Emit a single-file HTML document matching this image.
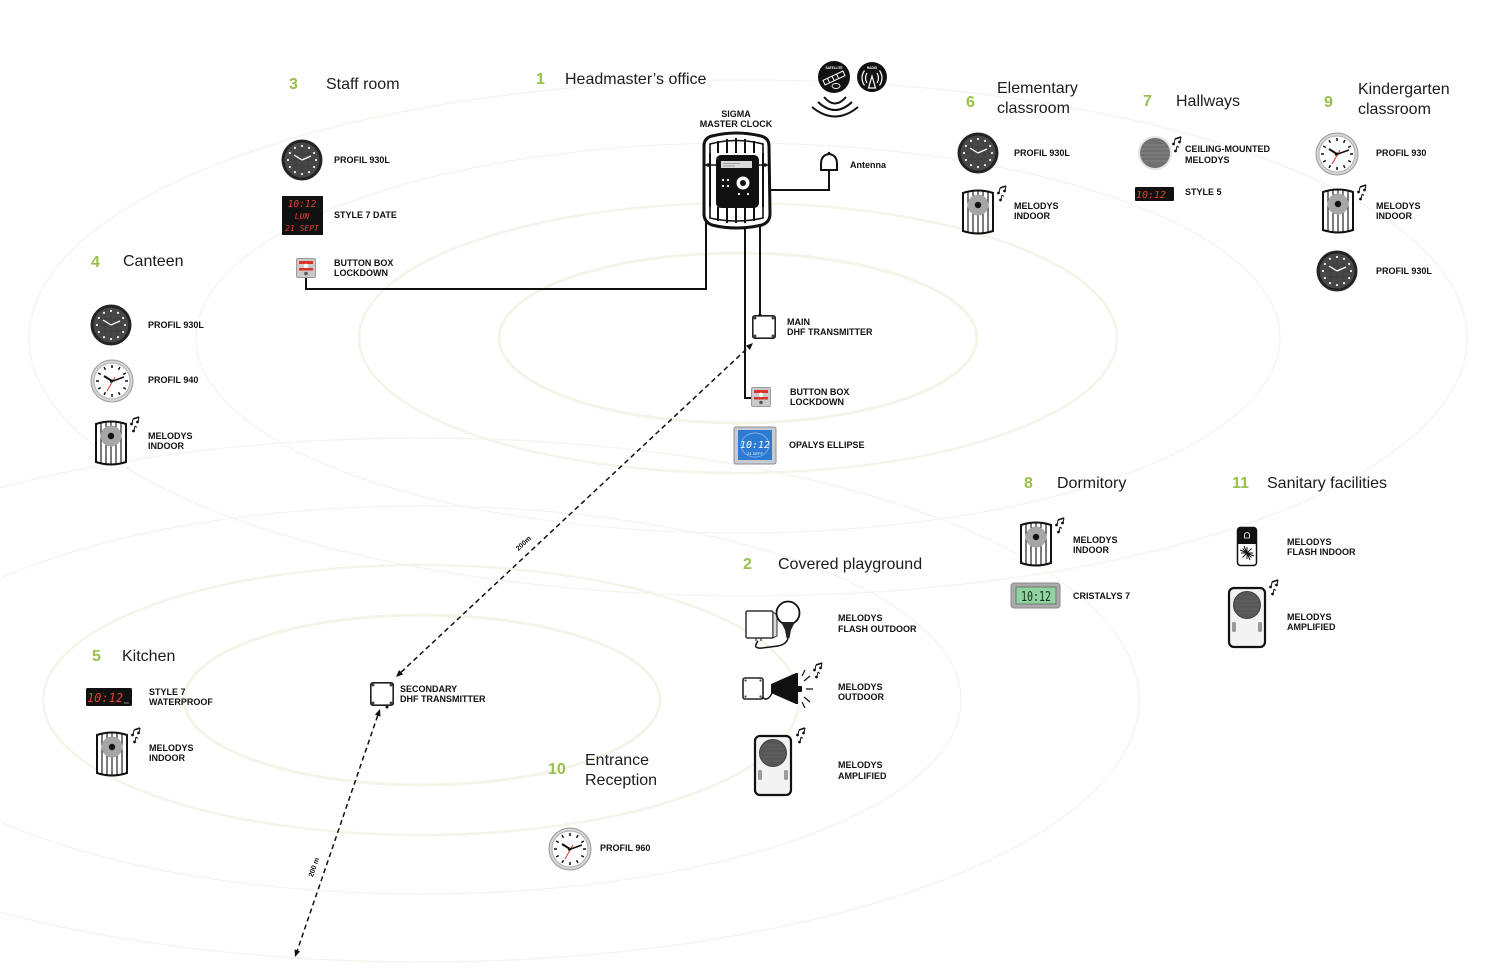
<!DOCTYPE html>
<html>
<head>
<meta charset="utf-8">
<style>
html,body{margin:0;padding:0;background:#fff;}
svg{display:block;}
.h{font-family:"Liberation Sans",Arial,sans-serif;font-size:16px;fill:#1c1c1c;}
.n{font-family:"Liberation Sans",Arial,sans-serif;font-size:16px;font-weight:bold;fill:#97c14c;}
.l{font-family:"Liberation Sans",Arial,sans-serif;font-size:9px;font-weight:bold;fill:#111;}
.s{font-family:"Liberation Sans",Arial,sans-serif;font-size:7px;font-weight:bold;fill:#111;}
.led{font-family:"DejaVu Sans Mono","Liberation Mono",monospace;fill:#e0412c;font-style:italic;}
</style>
</head>
<body>
<svg width="1500" height="970" viewBox="0 0 1500 970" xmlns="http://www.w3.org/2000/svg">
<defs>
  <g id="dk">
    <circle r="20.5" fill="#262626"/>
    <circle r="18" fill="#474747" stroke="#1c1c1c" stroke-width="0.8"/>
    <path d="M-12,-6H12M-14,0H14M-12,6H12M-6,-12V12M0,-14V14M6,-12V12" stroke="#3b3b3b" stroke-width="0.7"/>
    <g fill="#f2f2f2">
      <circle cx="0" cy="-14" r="1.1"/><circle cx="7" cy="-12.12" r="1.1"/><circle cx="12.12" cy="-7" r="1.1"/>
      <circle cx="14" cy="0" r="1.1"/><circle cx="12.12" cy="7" r="1.1"/><circle cx="7" cy="12.12" r="1.1"/>
      <circle cx="0" cy="14" r="1.1"/><circle cx="-7" cy="12.12" r="1.1"/><circle cx="-12.12" cy="7" r="1.1"/>
      <circle cx="-14" cy="0" r="1.1"/><circle cx="-12.12" cy="-7" r="1.1"/><circle cx="-7" cy="-12.12" r="1.1"/>
    </g>
    <path d="M0,0L-8,-5M0,0L9,-4" stroke="#fff" stroke-width="1.3"/>
  </g>
  <g id="wc">
    <circle r="21" fill="#d6d6d6" stroke="#9a9a9a" stroke-width="1"/>
    <circle r="18" fill="#fff" stroke="#b0b0b0" stroke-width="1"/>
    <path d="M0,-13L0,-16M6.5,-11.26L8,-13.86M11.26,-6.5L13.86,-8M13,0L16,0M11.26,6.5L13.86,8M6.5,11.26L8,13.86M0,13L0,16M-6.5,11.26L-8,13.86M-11.26,6.5L-13.86,8M-13,0L-16,0M-11.26,-6.5L-13.86,-8M-6.5,-11.26L-8,-13.86" stroke="#111" stroke-width="1.5"/>
    <path d="M0,0L-8,-5" stroke="#111" stroke-width="2"/>
    <path d="M-2,1L12,-4" stroke="#111" stroke-width="1.6"/>
    <path d="M3,-4L-5,10" stroke="#d6281f" stroke-width="0.9"/>
    <circle r="1.4" fill="#111"/>
  </g>
  <g id="nt" fill="#111" stroke="#111">
    <path d="M3,4L9,2" stroke-width="1.6"/>
    <path d="M3,4L2,9M9,2L8,7" stroke-width="1"/>
    <circle cx="1.5" cy="9" r="1.4" stroke="none"/>
    <circle cx="7.5" cy="7" r="1.4" stroke="none"/>
    <path d="M5,11L4,16M5,11L7,12.5" stroke-width="1" fill="none"/>
    <circle cx="3.5" cy="16" r="1.4" stroke="none"/>
  </g>
  <g id="mi">
    <path d="M2,4Q17,-1 32,4L32,42Q17,47 2,42Z" fill="#fff" stroke="#111" stroke-width="2"/>
    <path d="M7,3V44M12,2V45M17,2V45M22,2V45M27,3V44" stroke="#111" stroke-width="1.1"/>
    <circle cx="17" cy="16" r="10.5" fill="#a6a6a6"/>
    <circle cx="17" cy="16" r="3.2" fill="#111"/>
    <use href="#nt" x="36" y="-5"/>
  </g>
  <g id="tx">
    <rect x="0.8" y="0.8" width="22.4" height="22.4" rx="2" fill="#fff" stroke="#222" stroke-width="1.6"/>
    <circle cx="3" cy="3" r="1.5" fill="#444"/><circle cx="21" cy="3" r="1.5" fill="#444"/>
    <circle cx="3" cy="21" r="1.5" fill="#444"/><circle cx="21" cy="21" r="1.5" fill="#444"/>
  </g>
  <g id="bb">
    <rect x="0.5" y="0.5" width="19" height="19" rx="1.5" fill="#cacaca" stroke="#9a9a9a"/>
    <rect x="3" y="3" width="14" height="3" fill="#d9332b"/>
    <circle cx="10" cy="8" r="2.2" fill="#fff"/>
    <rect x="3" y="10" width="14" height="2.5" fill="#d9332b"/>
    <circle cx="10" cy="15.5" r="1.8" fill="#555"/>
  </g>
  <g id="amp">
    <rect x="1" y="1" width="36" height="59" rx="5" fill="#f3f3f3" stroke="#111" stroke-width="2.2"/>
    <circle cx="19" cy="18" r="13.5" fill="#575757" stroke="#444"/>
    <path d="M8,14H30M7,18H31M8,22H30M10,10H28M10,26H28" stroke="#666" stroke-width="0.8"/>
    <rect x="4" y="35" width="4" height="10" rx="1.5" fill="#9a9a9a"/>
    <rect x="30" y="35" width="4" height="10" rx="1.5" fill="#9a9a9a"/>
  </g>
</defs>

<!-- concentric range ellipses (very faint) -->
<g fill="none">
  <ellipse cx="738" cy="338" rx="239" ry="85" stroke="#f3f5e8" stroke-width="3"/>
  <ellipse cx="738" cy="338" rx="379" ry="135" stroke="#f4f5ea" stroke-width="2.5"/>
  <ellipse cx="738" cy="338" rx="542" ry="195" stroke="#f1f1f1" stroke-width="1"/>
  <ellipse cx="748" cy="338" rx="719" ry="258" stroke="#f3f4ed" stroke-width="1.2"/>
  <ellipse cx="422" cy="700" rx="238" ry="85" stroke="#f3f5e8" stroke-width="3"/>
  <ellipse cx="421" cy="700" rx="378" ry="135" stroke="#f4f5ea" stroke-width="2.5"/>
  <ellipse cx="421" cy="700" rx="540" ry="194" stroke="#f1f1f1" stroke-width="1"/>
  <ellipse cx="421" cy="700" rx="718" ry="262" stroke="#f3f4ed" stroke-width="1.2"/>
</g>

<!-- headers -->
<text class="n" x="289" y="89">3</text><text class="h" x="326" y="89">Staff room</text>
<text class="n" x="536" y="84">1</text><text class="h" x="565" y="84">Headmaster’s office</text>
<text class="n" x="966" y="107">6</text><text class="h" x="997" y="93">Elementary</text><text class="h" x="997" y="113">classroom</text>
<text class="n" x="1143" y="106">7</text><text class="h" x="1176" y="106">Hallways</text>
<text class="n" x="1324" y="107">9</text><text class="h" x="1358" y="94">Kindergarten</text><text class="h" x="1358" y="114">classroom</text>
<text class="n" x="91" y="267">4</text><text class="h" x="123" y="266">Canteen</text>
<text class="n" x="1024" y="488">8</text><text class="h" x="1057" y="488">Dormitory</text>
<text class="n" x="1232" y="488">11</text><text class="h" x="1267" y="488">Sanitary facilities</text>
<text class="n" x="743" y="569">2</text><text class="h" x="778" y="569">Covered playground</text>
<text class="n" x="92" y="661">5</text><text class="h" x="122" y="661">Kitchen</text>
<text class="n" x="548" y="774">10</text><text class="h" x="585" y="765">Entrance</text><text class="h" x="585" y="785">Reception</text>

<!-- wiring -->
<g fill="none" stroke="#111" stroke-width="2">
  <polyline points="306,278 306,289 706,289 706,222"/>
  <polyline points="770,190 829,190 829,170"/>
  <line x1="760" y1="226" x2="760" y2="316"/>
  <polyline points="745,227 745,398 752,398"/>
</g>

<!-- master clock -->
<g>
  <path d="M704,146Q704,138 712,136Q736,130 761,136Q769,138 769,146L770,214Q770,222 762,225Q736,231 712,225Q704,222 704,214Z" fill="#fff" stroke="#111" stroke-width="3"/>
  <path d="M710,153L710,144Q736,137 763,144L763,153" fill="none" stroke="#111" stroke-width="1.6"/>
  <path d="M718,141V153M727,139V153M736,138V153M745,139V153M754,141V153" stroke="#111" stroke-width="2"/>
  <path d="M710,207L710,218Q736,224 763,218L763,207" fill="none" stroke="#111" stroke-width="1.6"/>
  <path d="M718,207V221M727,207V223M736,207V223M745,207V223M754,207V221" stroke="#111" stroke-width="2"/>
  <path d="M710,153V207M763,153V207" stroke="#111" stroke-width="2"/>
  <path d="M704,165H716M758,165H769" stroke="#111" stroke-width="1.5"/>
  <circle cx="708" cy="165" r="1.8" fill="#111"/><circle cx="765" cy="165" r="1.8" fill="#111"/>
  <rect x="716" y="155" width="43" height="53" rx="5" fill="#111"/>
  <rect x="721" y="161" width="31" height="7" fill="#d8d8d8"/>
  <path d="M723,163.5H740M723,166H735" stroke="#888" stroke-width="0.8"/>
  <circle cx="723" cy="180" r="1.1" fill="#fff"/><circle cx="728" cy="180" r="1.1" fill="#fff"/>
  <circle cx="723" cy="186" r="1.1" fill="#fff"/><circle cx="728" cy="186" r="1.1" fill="#fff"/>
  <circle cx="743" cy="183" r="6.5" fill="#fff"/>
  <circle cx="743" cy="183" r="3" fill="#111"/>
  <circle cx="739" cy="194" r="1.1" fill="#fff"/><circle cx="748" cy="194" r="1.1" fill="#fff"/>
</g>
<text class="l" x="736" y="117" text-anchor="middle">SIGMA</text>
<text class="l" x="736" y="127" text-anchor="middle">MASTER CLOCK</text>

<!-- satellite / radio -->
<circle cx="834" cy="77" r="16" fill="#111"/>
<text x="834" y="69" text-anchor="middle" font-family="Liberation Sans,sans-serif" font-size="3.2" font-weight="bold" fill="#fff">SATELLITE</text>
<g transform="rotate(-25 834 78)" fill="none" stroke="#fff" stroke-width="1">
  <rect x="823" y="75.5" width="22" height="5"/>
  <path d="M828,75.5V80.5M833,75.5V80.5M838,75.5V80.5"/>
</g>
<ellipse cx="836" cy="86" rx="4" ry="2.5" fill="none" stroke="#fff" stroke-width="0.9"/>
<circle cx="872" cy="77" r="15" fill="#111"/>
<text x="872" y="69" text-anchor="middle" font-family="Liberation Sans,sans-serif" font-size="3.2" font-weight="bold" fill="#fff">RADIO</text>
<g fill="none" stroke="#fff" stroke-width="1.2">
  <path d="M872,76L868.5,88H875.5Z"/>
  <path d="M867,73Q864,78 867,83M877,73Q880,78 877,83M864.5,70.5Q859.5,78 864.5,85.5M879.5,70.5Q884.5,78 879.5,85.5"/>
</g>
<g fill="none" stroke="#111" stroke-width="2">
  <path d="M824,97Q835,110 846,97"/>
  <path d="M818,102Q835,118 852,102"/>
  <path d="M812,107Q835,126 858,107"/>
</g>

<!-- antenna -->
<path d="M821,170L821,164Q821,155 829,154Q837,155 837,164L837,170Z" fill="#fff" stroke="#111" stroke-width="2"/>
<circle cx="829" cy="153" r="1.2" fill="#111"/>
<text x="850" y="168" font-family="Liberation Sans,sans-serif" font-size="9" font-weight="bold" fill="#111">Antenna</text>

<!-- main transmitter, button box, opalys -->
<use href="#tx" x="752" y="315"/>
<circle cx="760" cy="315" r="1.6" fill="#111"/>
<text class="l" x="787" y="325">MAIN</text><text class="l" x="787" y="335">DHF TRANSMITTER</text>
<use href="#bb" x="751" y="387"/>
<text class="l" x="790" y="395">BUTTON BOX</text><text class="l" x="790" y="405">LOCKDOWN</text>
<rect x="734" y="427" width="42" height="37" rx="2" fill="#c5cbd1" stroke="#8b9096"/>
<rect x="738" y="430" width="34" height="30" fill="#2d7bd0"/>
<ellipse cx="755" cy="445" rx="14" ry="12" fill="none" stroke="#8fc0f0" stroke-width="0.7"/>
<text x="755" y="448" text-anchor="middle" font-family="DejaVu Sans Mono,monospace" font-size="10" fill="#fff" font-style="italic">10:12</text>
<text x="755" y="455" text-anchor="middle" font-family="Liberation Sans,sans-serif" font-size="4" fill="#fff" font-style="italic">21 SEPT</text>
<text class="l" x="789" y="448">OPALYS ELLIPSE</text>

<!-- staff room devices -->
<use href="#dk" x="302" y="160"/>
<text class="l" x="334" y="163">PROFIL 930L</text>
<rect x="282" y="196" width="41" height="39" fill="#111"/>
<text class="led" x="302" y="207" text-anchor="middle" font-size="9.5">10:12</text>
<text class="led" x="302" y="219" text-anchor="middle" font-size="8" font-style="normal">LUN</text>
<text class="led" x="302" y="231" text-anchor="middle" font-size="8">21 SEPT</text>
<text class="l" x="334" y="218">STYLE 7 DATE</text>
<use href="#bb" x="296" y="258"/>
<text class="l" x="334" y="266">BUTTON BOX</text><text class="l" x="334" y="276">LOCKDOWN</text>

<!-- canteen -->
<use href="#dk" x="111" y="325"/>
<text class="l" x="148" y="328">PROFIL 930L</text>
<use href="#wc" x="112" y="381"/>
<text class="l" x="148" y="383">PROFIL 940</text>
<use href="#mi" x="94" y="420"/>
<text class="l" x="148" y="439">MELODYS</text><text class="l" x="148" y="449">INDOOR</text>

<!-- elementary -->
<use href="#dk" x="978" y="153"/>
<text class="l" x="1014" y="156">PROFIL 930L</text>
<use href="#mi" x="961" y="189"/>
<text class="l" x="1014" y="209">MELODYS</text><text class="l" x="1014" y="219">INDOOR</text>

<!-- hallways -->
<circle cx="1155" cy="153" r="17" fill="#e4e4e4"/>
<circle cx="1155" cy="153" r="15" fill="#707070"/>
<path d="M1142,145H1168M1141,149H1169M1140,153H1170M1141,157H1169M1142,161H1168" stroke="#8a8a8a" stroke-width="0.8"/>
<use href="#nt" x="1172" y="135"/>
<text class="l" x="1185" y="152">CEILING-MOUNTED</text><text class="l" x="1185" y="163">MELODYS</text>
<rect x="1135" y="187" width="39" height="14" rx="1" fill="#111"/>
<text class="led" x="1151" y="198" text-anchor="middle" font-size="10">10:12</text>
<text class="l" x="1185" y="195">STYLE 5</text>

<!-- kindergarten -->
<use href="#wc" x="1337" y="154"/>
<text class="l" x="1376" y="156">PROFIL 930</text>
<use href="#mi" x="1321" y="188"/>
<text class="l" x="1376" y="209">MELODYS</text><text class="l" x="1376" y="219">INDOOR</text>
<use href="#dk" x="1337" y="271"/>
<text class="l" x="1376" y="274">PROFIL 930L</text>

<!-- dormitory -->
<use href="#mi" x="1019" y="521"/>
<text class="l" x="1073" y="543">MELODYS</text><text class="l" x="1073" y="553">INDOOR</text>
<rect x="1011" y="583" width="49" height="25" rx="3" fill="#ababab" stroke="#8a8a8a"/>
<rect x="1016" y="587" width="40" height="17" fill="#8fd3a1" stroke="#666" stroke-width="0.8"/>
<text x="1036" y="601" text-anchor="middle" font-family="DejaVu Sans Mono,monospace" font-size="13" fill="#1a2e20" textLength="30" lengthAdjust="spacingAndGlyphs">10:12</text>
<text class="l" x="1073" y="599">CRISTALYS 7</text>

<!-- sanitary -->
<rect x="1237.5" y="527.5" width="19" height="38" rx="3" fill="#fff" stroke="#111" stroke-width="1.5"/>
<path d="M1237.5,544V530.5Q1237.5,527.5 1240.5,527.5H1253.5Q1256.5,527.5 1256.5,530.5V544Z" fill="#111"/>
<path d="M1244.5,538V534Q1247,531 1249.5,534V538Z" fill="none" stroke="#fff" stroke-width="0.8"/>
<path d="M1247,547L1247,559M1241,553L1253,553M1242.5,548.5L1251.5,557.5M1242.5,557.5L1251.5,548.5M1244,546L1250,560M1240,550L1254,556" stroke="#111" stroke-width="1"/>
<text class="l" x="1287" y="545">MELODYS</text><text class="l" x="1287" y="555">FLASH INDOOR</text>
<use href="#amp" x="1228" y="587"/>
<use href="#nt" x="1269" y="578"/>
<text class="l" x="1287" y="620">MELODYS</text><text class="l" x="1287" y="630">AMPLIFIED</text>

<!-- covered playground -->
<rect x="746" y="611" width="27" height="27" rx="1.5" fill="#fff" stroke="#333" stroke-width="1.5"/>
<path d="M773,612L777,615V636L773,638Z" fill="#ddd" stroke="#333" stroke-width="1"/>
<path d="M756,638V641M761,638V641" stroke="#333" stroke-width="1.2"/>
<circle cx="788" cy="613" r="11.5" fill="#fff" stroke="#111" stroke-width="1.8"/>
<path d="M781,622L795,622L791,630L789.5,638L786.5,638L785,630Z" fill="#222"/>
<path d="M758,641Q752,649 762,648L778,646Q787,644 788,638" fill="none" stroke="#111" stroke-width="1.5"/>
<text class="l" x="838" y="621">MELODYS</text><text class="l" x="838" y="632">FLASH OUTDOOR</text>

<rect x="743" y="678" width="20" height="21" rx="2" fill="#fff" stroke="#222" stroke-width="1.6"/>
<circle cx="745.5" cy="680.5" r="1.1" fill="#444"/><circle cx="760.5" cy="680.5" r="1.1" fill="#444"/>
<circle cx="745.5" cy="696.5" r="1.1" fill="#444"/><circle cx="760.5" cy="696.5" r="1.1" fill="#444"/>
<path d="M762,697Q768,703 773,691" fill="none" stroke="#111" stroke-width="1.5"/>
<path d="M771,684L796,673H798V704H796L771,693Z" fill="#111"/>
<rect x="797" y="686" width="5" height="6" rx="1" fill="#111"/>
<path d="M804,681L810,676M806,689H813M804,697L810,702M802,676L805,670M802,702L805,708" stroke="#111" stroke-width="1.2"/>
<use href="#nt" x="813" y="661"/>
<text class="l" x="838" y="690">MELODYS</text><text class="l" x="838" y="700">OUTDOOR</text>

<use href="#amp" x="754" y="735"/>
<use href="#nt" x="796" y="726"/>
<text class="l" x="838" y="768">MELODYS</text><text class="l" x="838" y="779">AMPLIFIED</text>

<!-- kitchen -->
<rect x="86" y="688" width="46" height="18" rx="1.5" fill="#111"/>
<text class="led" x="105" y="702" text-anchor="middle" font-size="12">10:12</text>
<path d="M124,703H129" stroke="#888" stroke-width="1"/>
<text class="l" x="149" y="695">STYLE 7</text><text class="l" x="149" y="705">WATERPROOF</text>
<use href="#mi" x="95" y="731"/>
<text class="l" x="149" y="751">MELODYS</text><text class="l" x="149" y="761">INDOOR</text>

<!-- secondary transmitter -->
<use href="#tx" x="370" y="682"/>
<circle cx="387" cy="707" r="1.5" fill="#111"/>
<text class="l" x="400" y="692">SECONDARY</text><text class="l" x="400" y="702">DHF TRANSMITTER</text>

<!-- entrance -->
<use href="#wc" x="570" y="849"/>
<text class="l" x="600" y="851">PROFIL 960</text>

<!-- dashed range lines -->
<g stroke="#111" stroke-width="1.5" stroke-dasharray="5,3.5" fill="none">
  <line x1="401.1" y1="672.2" x2="747.9" y2="347.8"/>
  <line x1="377.7" y1="715.6" x2="297.3" y2="950.4"/>
</g>
<g fill="#111">
  <polygon points="753,343 749.9,350 745.9,345.6"/>
  <polygon points="396,677 403.2,674.4 399,670"/>
  <polygon points="380,709 380.5,716.6 374.9,714.6"/>
  <polygon points="295,957 300.1,951.4 294.5,949.4"/>
</g>
<text class="s" x="525" y="545" text-anchor="middle" transform="rotate(-43 525 545)">200m</text>
<text class="s" x="316" y="868" text-anchor="middle" transform="rotate(-71 316 868)">200 m</text>
</svg>
</body>
</html>
